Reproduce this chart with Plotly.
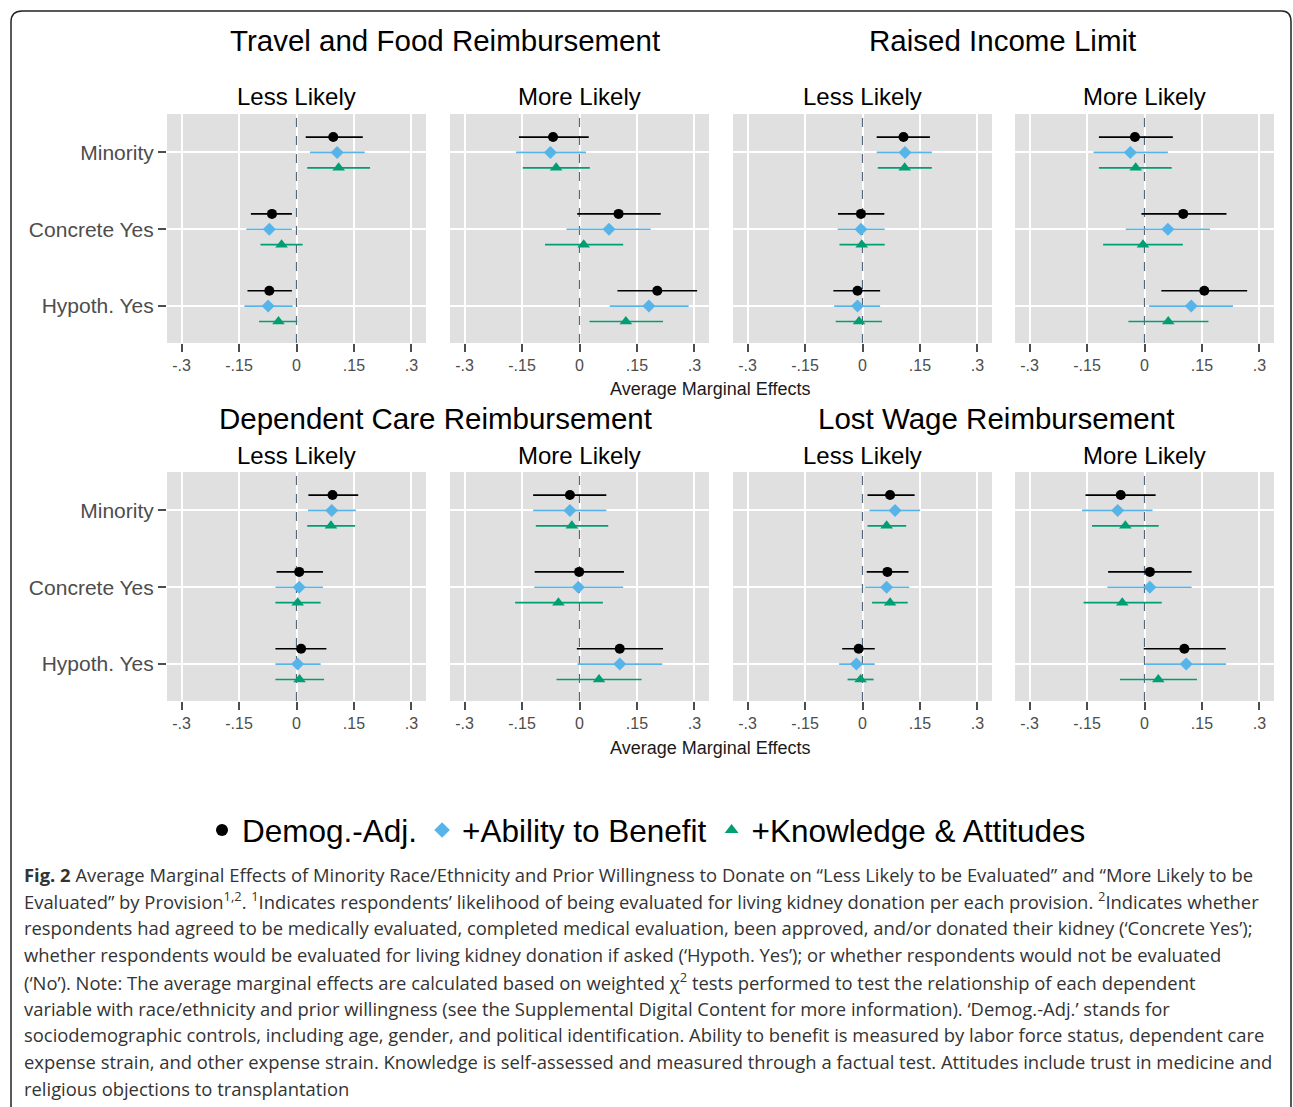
import plotly.graph_objects as go

W, H = 1293, 1107

# ---------------- data ----------------
categories = ["Minority", "Concrete Yes", "Hypoth. Yes"]
provisions = ["Travel and Food Reimbursement", "Raised Income Limit",
              "Dependent Care Reimbursement", "Lost Wage Reimbursement"]
outcomes = ["Less Likely", "More Likely"]
series_names = ["Demog.-Adj.", "+Ability to Benefit", "+Knowledge & Attitudes"]
tick_vals = [-0.3, -0.15, 0, 0.15, 0.3]
tick_text = ["-.3", "-.15", "0", ".15", ".3"]

# panel order: Travel-Less, Travel-More, Raised-Less, Raised-More,
#              Dependent-Less, Dependent-More, LostWage-Less, LostWage-More
# each inner list: Minority, Concrete Yes, Hypoth. Yes
demog_est = [[0.096, -0.064, -0.071], [-0.069, 0.102, 0.203],
             [0.107, -0.004, -0.013], [-0.025, 0.101, 0.156],
             [0.094, 0.007, 0.012], [-0.025, -0.001, 0.105],
             [0.072, 0.065, -0.010], [-0.062, 0.014, 0.104]]
demog_lo = [[0.024, -0.119, -0.128], [-0.158, -0.006, 0.099],
            [0.037, -0.064, -0.076], [-0.119, -0.008, 0.044],
            [0.031, -0.052, -0.055], [-0.121, -0.117, -0.007],
            [0.013, 0.011, -0.053], [-0.154, -0.095, -0.002]]
demog_hi = [[0.173, -0.012, -0.012], [0.024, 0.212, 0.307],
            [0.176, 0.057, 0.046], [0.074, 0.214, 0.268],
            [0.161, 0.069, 0.078], [0.070, 0.116, 0.218],
            [0.136, 0.120, 0.032], [0.029, 0.123, 0.212]]

ability_est = [[0.106, -0.071, -0.074], [-0.076, 0.077, 0.181],
               [0.111, -0.004, -0.013], [-0.037, 0.061, 0.122],
               [0.092, 0.007, 0.003], [-0.025, -0.003, 0.105],
               [0.085, 0.063, -0.016], [-0.070, 0.014, 0.109]]
ability_lo = [[0.035, -0.131, -0.136], [-0.166, -0.034, 0.079],
              [0.037, -0.065, -0.074], [-0.133, -0.049, 0.012],
              [0.030, -0.055, -0.055], [-0.121, -0.118, -0.005],
              [0.018, 0.007, -0.061], [-0.163, -0.097, 0.002]]
ability_hi = [[0.178, -0.012, -0.010], [0.017, 0.186, 0.285],
              [0.181, 0.058, 0.046], [0.061, 0.171, 0.231],
              [0.155, 0.069, 0.063], [0.070, 0.114, 0.216],
              [0.150, 0.122, 0.032], [0.021, 0.123, 0.213]]

know_est = [[0.110, -0.039, -0.047], [-0.061, 0.011, 0.121],
            [0.110, -0.002, -0.009], [-0.023, -0.004, 0.062],
            [0.090, 0.003, 0.008], [-0.020, -0.055, 0.051],
            [0.063, 0.072, -0.005], [-0.050, -0.058, 0.036]]
know_lo = [[0.028, -0.094, -0.098], [-0.148, -0.090, 0.026],
           [0.040, -0.060, -0.070], [-0.119, -0.108, -0.042],
           [0.028, -0.055, -0.055], [-0.114, -0.168, -0.060],
           [0.013, 0.025, -0.039], [-0.137, -0.159, -0.064]]
know_hi = [[0.192, 0.016, 0.002], [0.027, 0.114, 0.218],
           [0.181, 0.058, 0.051], [0.071, 0.100, 0.167],
           [0.153, 0.063, 0.072], [0.075, 0.061, 0.162],
           [0.114, 0.118, 0.029], [0.037, 0.045, 0.137]]

caption_lines = [
    "<b>Fig. 2</b> Average Marginal Effects of Minority Race/Ethnicity and Prior Willingness to Donate on “Less Likely to be Evaluated” and “More Likely to be",
    "Evaluated” by Provision<sup>1,2</sup>. <sup>1</sup>Indicates respondents’ likelihood of being evaluated for living kidney donation per each provision. <sup>2</sup>Indicates whether",
    "respondents had agreed to be medically evaluated, completed medical evaluation, been approved, and/or donated their kidney (‘Concrete Yes’);",
    "whether respondents would be evaluated for living kidney donation if asked (‘Hypoth. Yes’); or whether respondents would not be evaluated",
    "(‘No’). Note: The average marginal effects are calculated based on weighted χ<sup>2</sup> tests performed to test the relationship of each dependent",
    "variable with race/ethnicity and prior willingness (see the Supplemental Digital Content for more information). ‘Demog.-Adj.’ stands for",
    "sociodemographic controls, including age, gender, and political identification. Ability to benefit is measured by labor force status, dependent care",
    "expense strain, and other expense strain. Knowledge is self-assessed and measured through a factual test. Attitudes include trust in medicine and",
    "religious objections to transplantation",
]

# ---------------- styling ----------------
FONT = "Liberation Sans, Arial, sans-serif"
CAP_FONT = "Open Sans, Noto Sans, sans-serif"
colors = ["#000000", "#56B4E9", "#009E73"]
symbols = ["circle", "diamond", "triangle-up"]
sizes = [10, 10, 11]
offsets = [0.2, 0.0, -0.2]
cat_pos = {c: 3 - i for i, c in enumerate(categories)}
y_range = [0.52, 3.5]

series = [(demog_est, demog_lo, demog_hi),
          (ability_est, ability_lo, ability_hi),
          (know_est, know_lo, know_hi)]

col_px = [(167, 426), (450, 709), (733, 992), (1015, 1274)]
row_px = [(114, 343), (472, 701)]


def px(x):
    return x / W


def py(y):
    return 1 - y / H


fig = go.Figure()
layout = {}
shapes = []
annotations = []

for p in range(8):
    r, c = divmod(p, 4)
    idx = p + 1
    xa = "x" if idx == 1 else f"x{idx}"
    ya = "y" if idx == 1 else f"y{idx}"
    for s in range(3):
        est, lo, hi = series[s]
        xs = est[p]
        ys = [cat_pos[cat] + offsets[s] for cat in categories]
        fig.add_trace(go.Scatter(
            x=xs, y=ys, xaxis=xa, yaxis=ya, mode="markers",
            name=series_names[s], legendgroup=series_names[s],
            showlegend=(p == 0),
            marker=dict(symbol=symbols[s], size=sizes[s], color=colors[s],
                        line=dict(width=0)),
            error_x=dict(type="data", symmetric=False,
                         array=[h - e for h, e in zip(hi[p], xs)],
                         arrayminus=[e - l for e, l in zip(xs, lo[p])],
                         width=0, thickness=1.7, color=colors[s]),
            hoverinfo="skip",
        ))
    x0, x1 = col_px[c]
    y0, y1 = row_px[r]
    xkey = "xaxis" if idx == 1 else f"xaxis{idx}"
    ykey = "yaxis" if idx == 1 else f"yaxis{idx}"
    layout[xkey] = dict(
        domain=[px(x0), px(x1)], anchor=ya, range=[-0.338, 0.338],
        tickvals=tick_vals, ticktext=tick_text, ticks="outside", ticklen=8,
        tickwidth=1.5, tickcolor="#4d4d4d", showgrid=True, gridcolor="white",
        gridwidth=2, zeroline=False, showline=False,
        tickfont=dict(family=FONT, size=16, color="#4d4d4d"),
    )
    layout[ykey] = dict(
        domain=[py(y1), py(y0)], anchor=xa, range=y_range,
        tickvals=[cat_pos[cat] for cat in categories], ticktext=categories,
        ticks="outside" if c == 0 else "", ticklen=8, tickwidth=1.5,
        tickcolor="#4d4d4d", showticklabels=(c == 0), showgrid=True,
        gridcolor="white", gridwidth=2, zeroline=False, showline=False,
        tickfont=dict(family=FONT, size=21, color="#4d4d4d"),
    )
    # dashed reference line at zero (between grid and markers)
    shapes.append(dict(type="line", xref=xa, yref=ya,
                       x0=0, x1=0, y0=y_range[0], y1=y_range[1], layer="between",
                       line=dict(color="#55657a", width=1.2, dash="dash")))
    # outcome subtitle
    annotations.append(dict(text=outcomes[c % 2], xref=f"{xa} domain", x=0.5,
                            yref="paper", y=py(97 if r == 0 else 455),
                            xanchor="center", yanchor="middle", showarrow=False,
                            font=dict(family=FONT, size=24, color="black")))

# provision titles
title_pos = [(445, 41), (1002, 41), (435, 418), (996, 418)]
for t, (tx, ty) in zip(provisions, title_pos):
    annotations.append(dict(text=t, xref="paper", yref="paper", x=px(tx), y=py(ty),
                            xanchor="center", yanchor="middle", showarrow=False,
                            font=dict(family=FONT, size=29.5, color="black")))

# x-axis titles
for ty in (389, 748):
    annotations.append(dict(text="Average Marginal Effects", xref="paper", yref="paper",
                            x=px(710), y=py(ty), xanchor="center", yanchor="middle",
                            showarrow=False,
                            font=dict(family=FONT, size=18, color="#1a1a1a")))

# caption
cap_y = [874, 900, 927, 954, 981, 1008, 1034, 1061, 1088]
for line, ly in zip(caption_lines, cap_y):
    annotations.append(dict(text=line, xref="paper", yref="paper", x=px(22), y=py(ly),
                            xanchor="left", yanchor="middle", showarrow=False,
                            align="left",
                            font=dict(family=CAP_FONT, size=18.4, color="#333333")))

# rounded border
def pt(x, y):
    return f"{px(x):.5f},{py(y):.5f}"

border = ("M" + pt(11, 1107) + " L" + pt(11, 22) + " Q" + pt(11, 11) + " " + pt(22, 11)
          + " L" + pt(1282, 11) + " Q" + pt(1291, 11) + " " + pt(1291, 22)
          + " L" + pt(1291, 1107))
shapes.append(dict(type="path", xref="paper", yref="paper", path=border,
                   line=dict(color="#222222", width=1.5), layer="above"))

fig.update_layout(
    width=W, height=H, autosize=False,
    margin=dict(l=0, r=0, t=0, b=0),
    paper_bgcolor="white", plot_bgcolor="#e0e0e0",
    showlegend=True,
    legend=dict(orientation="h", x=0.5, xanchor="center", y=py(830), yanchor="middle",
                font=dict(family=FONT, size=31.5, color="black"),
                bgcolor="rgba(0,0,0,0)", itemsizing="constant"),
    shapes=shapes, annotations=annotations,
    **layout,
)

fig.write_html("out.html", config={"displayModeBar": False},
               post_script="document.body.style.margin='0';document.body.style.overflow='hidden';")
